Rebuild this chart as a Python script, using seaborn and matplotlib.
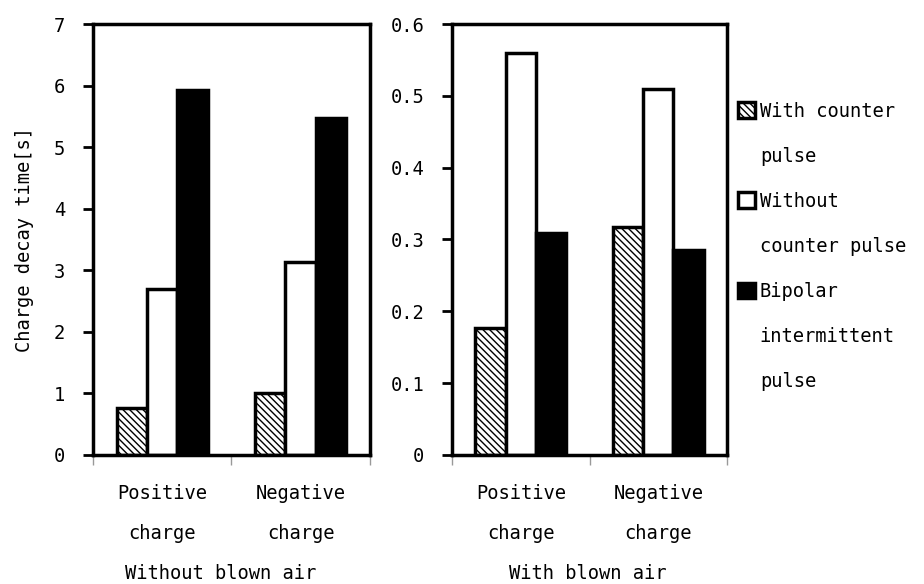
import pandas as pd
import matplotlib.pyplot as plt
import seaborn as sns
from matplotlib.patches import Patch
from matplotlib.ticker import MultipleLocator, FixedLocator, FuncFormatter

# values
conditions = ['Positive\ncharge', 'Negative\ncharge']
methods = ['With counter pulse', 'Without counter pulse', 'Bipolar intermittent pulse']
legend_lines = [['With counter', 'pulse'], ['Without', 'counter pulse'], ['Bipolar', 'intermittent', 'pulse']]

no_air_with_counter = [0.77, 1.00]
no_air_without_counter = [2.69, 3.13]
no_air_bipolar = [5.92, 5.47]

air_with_counter = [0.177, 0.317]
air_without_counter = [0.560, 0.510]
air_bipolar = [0.309, 0.285]

panel_titles = ['Without blown air', 'With blown air']
ylabel = 'Charge decay time[s]'


def to_long(series_list):
    rows = []
    for method, vals in zip(methods, series_list):
        for cond, v in zip(conditions, vals):
            rows.append({'condition': cond, 'method': method, 'time': v})
    return pd.DataFrame(rows)


df_no_air = to_long([no_air_with_counter, no_air_without_counter, no_air_bipolar])
df_air = to_long([air_with_counter, air_without_counter, air_bipolar])

sns.set_style('white')
plt.rcParams['font.family'] = ['DejaVu Sans Mono']
plt.rcParams['font.size'] = 13.5
plt.rcParams['text.color'] = 'black'
plt.rcParams['axes.labelcolor'] = 'black'
plt.rcParams['xtick.color'] = 'black'
plt.rcParams['ytick.color'] = 'black'
plt.rcParams['hatch.linewidth'] = 1.0
plt.rcParams['hatch.color'] = 'black'

fig = plt.figure(figsize=(9.24, 5.84), dpi=100)
ax_l = fig.add_axes([0.1006, 0.2209, 0.2998, 0.738])
ax_r = fig.add_axes([0.4892, 0.2209, 0.2976, 0.738])

palette = ['white', 'white', 'black']
hatch = '\\\\\\\\\\'


def draw_panel(ax, df, ymax, ystep, title, title_x):
    sns.barplot(data=df, x='condition', y='time', hue='method', order=conditions,
                hue_order=methods, palette=palette, saturation=1, width=0.66,
                edgecolor='black', linewidth=2.5, legend=False, ax=ax)
    for bar in ax.containers[0]:
        bar.set_hatch(hatch)
    ax.set_xlim(-0.5, 1.5)
    ax.set_ylim(0, ymax)
    ax.yaxis.set_major_locator(MultipleLocator(ystep))
    ax.yaxis.set_major_formatter(FuncFormatter(lambda v, p: f'{v:g}'))
    ax.tick_params(axis='y', direction='out', length=7, width=2, color='black',
                   left=True, pad=13, labelsize=13.5, labelcolor='black')
    ax.tick_params(axis='x', which='major', length=0, pad=21, labelsize=13.5,
                   labelcolor='black')
    ax.xaxis.set_minor_locator(FixedLocator([-0.5, 0.5, 1.5]))
    ax.tick_params(axis='x', which='minor', direction='out', length=7, width=1,
                   color='#999999', bottom=True)
    for lbl in ax.get_xticklabels():
        lbl.set_linespacing(2.4)
    for side in ['left', 'right', 'top', 'bottom']:
        ax.spines[side].set_visible(True)
        ax.spines[side].set_color('black')
        ax.spines[side].set_linewidth(2.5)
    ax.set_xlabel(title, fontsize=13.5)
    ax.xaxis.set_label_coords(title_x, -0.252)
    ax.set_ylabel('')


draw_panel(ax_l, df_no_air, 7, 1, panel_titles[0], 0.46)
draw_panel(ax_r, df_air, 0.6, 0.1, panel_titles[1], 0.495)
ax_l.set_ylabel(ylabel, fontsize=13.5, labelpad=14)

# legend: one row per text line, marker on the first line of each entry
blank = Patch(facecolor='none', edgecolor='none')
handles, labels = [], []
for cont, lines in zip(ax_r.containers, legend_lines):
    for i, line in enumerate(lines):
        handles.append(cont.patches[0] if i == 0 else blank)
        labels.append(line)
fig.legend(handles, labels, loc='upper left', bbox_to_anchor=(0.799, 0.826),
           frameon=False, handlelength=0.9, handleheight=0.9, handletextpad=0.25,
           labelspacing=1.39, borderaxespad=0, borderpad=0, fontsize=13.5)

fig.savefig('out.png', dpi=100)
